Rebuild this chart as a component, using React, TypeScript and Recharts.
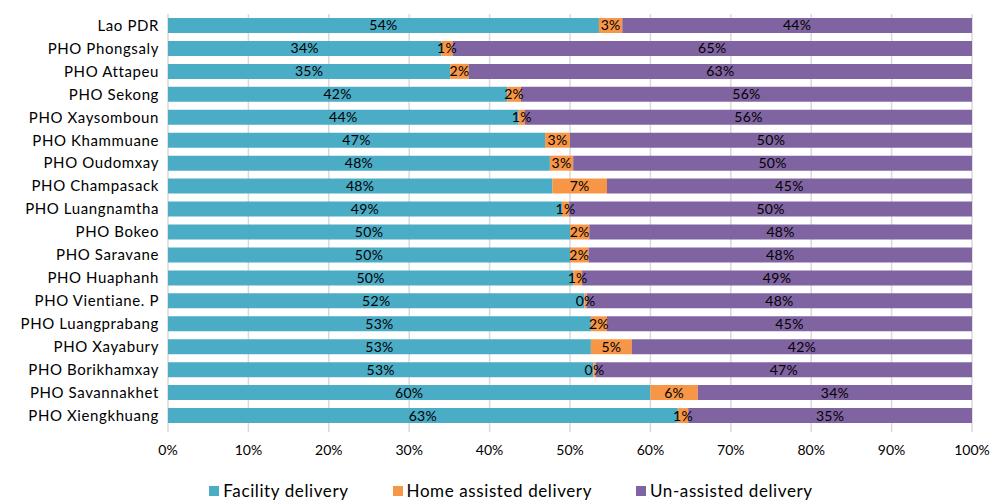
import { BarChart, Bar, XAxis, YAxis, CartesianGrid, Legend, LabelList } from 'recharts'

const categories = [
  'Lao PDR', 'PHO Phongsaly', 'PHO Attapeu', 'PHO Sekong', 'PHO Xaysomboun', 'PHO Khammuane',
  'PHO Oudomxay', 'PHO Champasack', 'PHO Luangnamtha', 'PHO Bokeo', 'PHO Saravane', 'PHO Huaphanh',
  'PHO Vientiane. P', 'PHO Luangprabang', 'PHO Xayabury', 'PHO Borikhamxay', 'PHO Savannakhet', 'PHO Xiengkhuang'
]
const facility = [53.6, 34.0, 35.1, 42.2, 43.6, 46.9, 47.5, 47.8, 49.0, 50.0, 50.0, 50.4, 51.8, 52.6, 52.6, 52.9, 60.0, 63.4]
const homeAssisted = [2.9, 1.4, 2.3, 1.7, 0.8, 3.1, 2.9, 6.8, 0.9, 2.4, 2.3, 1.1, 0.3, 2.0, 5.1, 0.3, 5.9, 1.3]
const unassisted = [43.5, 64.6, 62.6, 56.1, 55.6, 50.0, 49.6, 45.4, 50.1, 47.6, 47.7, 48.5, 47.9, 45.4, 42.3, 46.8, 34.1, 35.3]
const xTicks = [0, 10, 20, 30, 40, 50, 60, 70, 80, 90, 100]

const COLORS = { facility: '#4BACC6', home: '#F79646', un: '#8064A2' }
const FONT = 'Lato, "Liberation Sans", sans-serif'

const data = categories.map((name, i) => ({
  name,
  facility: facility[i],
  home: homeAssisted[i],
  un: unassisted[i]
}))

const pct = (v: any) => `${Math.round(Number(v))}%`
const labelStyle = { fontSize: 14, fill: '#000', fontFamily: FONT, letterSpacing: 0.3 }

function LegendBox({ payload }: any) {
  return (
    <div style={{ display: 'flex', justifyContent: 'center', gap: 44, paddingTop: 8, paddingLeft: 50, fontFamily: FONT, fontSize: 17, color: '#000' }}>
      {(payload || []).map((p: any) => (
        <div key={p.value} style={{ display: 'flex', alignItems: 'center' }}>
          <span style={{ width: 10, height: 10, background: p.color, marginRight: 4, display: 'inline-block' }} />
          <span style={{ letterSpacing: 0.6 }}>{p.value}</span>
        </div>
      ))}
    </div>
  )
}

export default function App() {
  return (
    <div style={{ position: 'fixed', left: 0, top: 0, background: '#fff' }}>
      <BarChart
        width={992}
        height={502}
        data={data}
        layout="vertical"
        margin={{ top: 14, right: 20, bottom: 0, left: 0 }}
        barSize={15}
      >
        <CartesianGrid horizontal={false} stroke="#D9D9D9" strokeWidth={1.5} />
        <XAxis
          type="number"
          domain={[0, 100]}
          ticks={xTicks}
          tickFormatter={(v) => `${v}%`}
          axisLine={false}
          tickLine={{ stroke: '#D9D9D9', strokeWidth: 1.5 }}
          tickSize={5}
          tickMargin={13}
          height={45}
          tick={{ fontSize: 14, fill: '#000', fontFamily: FONT }}
          allowDataOverflow
        />
        <YAxis
          type="category"
          dataKey="name"
          width={168}
          axisLine={false}
          tickLine={false}
          tickSize={0}
          tickMargin={9}
          interval={0}
          tick={{ fontSize: 15, fill: '#000', fontFamily: FONT, letterSpacing: 0.6 }}
        />
        <Legend verticalAlign="bottom" height={30} content={<LegendBox />} />
        <Bar dataKey="facility" name="Facility delivery" stackId="a" fill={COLORS.facility} isAnimationActive={false}>
          <LabelList dataKey="facility" position="center" formatter={pct} style={labelStyle} />
        </Bar>
        <Bar dataKey="home" name="Home assisted delivery" stackId="a" fill={COLORS.home} isAnimationActive={false}>
          <LabelList dataKey="home" position="center" formatter={pct} style={labelStyle} />
        </Bar>
        <Bar dataKey="un" name="Un-assisted delivery" stackId="a" fill={COLORS.un} isAnimationActive={false}>
          <LabelList dataKey="un" position="center" formatter={pct} style={labelStyle} />
        </Bar>
      </BarChart>
    </div>
  )
}
